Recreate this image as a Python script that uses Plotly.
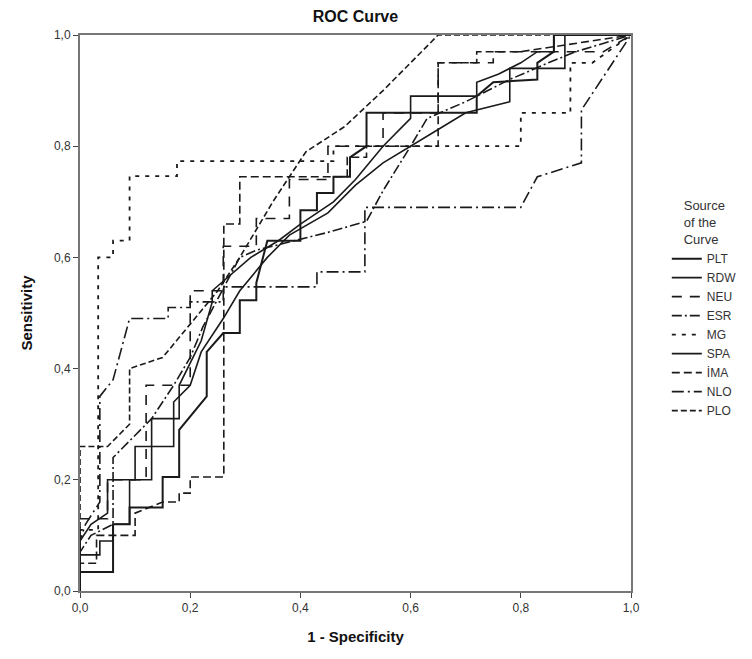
import plotly.graph_objects as go

# ---- data ----
curve_names = ["PLT", "RDW", "NEU", "ESR", "MG", "SPA", "İMA", "NLO", "PLO"]

plt_x = [0, 0, 0.06, 0.06, 0.09, 0.09, 0.15, 0.15, 0.18, 0.18, 0.23, 0.23, 0.26, 0.29, 0.29, 0.32, 0.32, 0.34, 0.40, 0.40, 0.43, 0.43, 0.46, 0.46, 0.49, 0.49, 0.52, 0.52, 0.63, 0.72, 0.72, 0.75, 0.83, 0.83, 0.86, 0.86, 1]
plt_y = [0, 0.034, 0.034, 0.12, 0.12, 0.15, 0.15, 0.205, 0.205, 0.29, 0.35, 0.43, 0.464, 0.464, 0.523, 0.523, 0.554, 0.63, 0.63, 0.685, 0.685, 0.716, 0.716, 0.745, 0.745, 0.78, 0.80, 0.86, 0.86, 0.86, 0.89, 0.915, 0.92, 0.95, 0.97, 1, 1]

rdw_x = [0, 0, 0.036, 0.036, 0.06, 0.06, 0.09, 0.09, 0.13, 0.13, 0.18, 0.18, 0.22, 0.24, 0.24, 0.31, 0.36, 0.40, 0.46, 0.50, 0.55, 0.60, 0.60, 0.72, 0.72, 0.76, 0.80, 0.83, 0.86, 0.86, 1]
rdw_y = [0, 0.065, 0.065, 0.09, 0.09, 0.12, 0.12, 0.20, 0.20, 0.31, 0.31, 0.37, 0.45, 0.52, 0.54, 0.60, 0.63, 0.66, 0.70, 0.74, 0.80, 0.85, 0.89, 0.89, 0.915, 0.93, 0.95, 0.97, 0.97, 1, 1]

neu_x = [0, 0, 0.05, 0.05, 0.12, 0.12, 0.20, 0.20, 0.26, 0.26, 0.32, 0.32, 0.38, 0.38, 0.45, 0.45, 0.55, 0.55, 0.65, 0.65, 0.75, 0.75, 0.95, 1]
neu_y = [0, 0.13, 0.13, 0.20, 0.20, 0.37, 0.37, 0.54, 0.54, 0.62, 0.62, 0.67, 0.67, 0.74, 0.74, 0.80, 0.80, 0.86, 0.86, 0.95, 0.95, 0.97, 0.97, 1]

esr_x = [0, 0, 0.02, 0.06, 0.06, 0.10, 0.13, 0.17, 0.20, 0.223, 0.29, 0.32, 0.45, 0.52, 0.55, 0.60, 0.63, 0.70, 0.78, 0.85, 0.90, 1]
esr_y = [0, 0.07, 0.10, 0.12, 0.24, 0.28, 0.31, 0.37, 0.42, 0.475, 0.60, 0.613, 0.645, 0.665, 0.72, 0.80, 0.85, 0.88, 0.92, 0.95, 0.97, 1]

mg_x = [0, 0, 0.033, 0.033, 0.06, 0.06, 0.09, 0.09, 0.176, 0.176, 0.46, 0.46, 0.80, 0.80, 0.89, 0.89, 0.93, 1]
mg_y = [0, 0.11, 0.11, 0.60, 0.60, 0.63, 0.63, 0.746, 0.746, 0.773, 0.773, 0.80, 0.80, 0.86, 0.86, 0.95, 0.95, 1]

spa_x = [0, 0, 0.02, 0.05, 0.05, 0.10, 0.10, 0.17, 0.17, 0.20, 0.22, 0.26, 0.29, 0.34, 0.38, 0.45, 0.50, 0.55, 0.65, 0.70, 0.78, 0.78, 0.88, 0.88, 1]
spa_y = [0, 0.09, 0.12, 0.14, 0.20, 0.20, 0.26, 0.26, 0.34, 0.37, 0.43, 0.49, 0.54, 0.60, 0.64, 0.68, 0.73, 0.77, 0.83, 0.86, 0.88, 0.94, 0.94, 1, 1]

ima_x = [0, 0, 0.03, 0.03, 0.10, 0.10, 0.15, 0.18, 0.18, 0.20, 0.20, 0.261, 0.261, 0.29, 0.29, 0.485, 0.485, 0.52, 0.52, 0.65, 0.65, 0.72, 0.72, 0.80, 1]
ima_y = [0, 0.05, 0.05, 0.10, 0.10, 0.14, 0.16, 0.16, 0.176, 0.176, 0.205, 0.205, 0.66, 0.66, 0.745, 0.745, 0.78, 0.78, 0.80, 0.80, 0.95, 0.95, 0.97, 0.97, 1]

nlo_x = [0, 0, 0.01, 0.036, 0.036, 0.06, 0.09, 0.16, 0.16, 0.20, 0.20, 0.26, 0.26, 0.43, 0.43, 0.517, 0.517, 0.80, 0.83, 0.91, 0.91, 1]
nlo_y = [0, 0.09, 0.12, 0.16, 0.35, 0.38, 0.49, 0.49, 0.51, 0.51, 0.52, 0.52, 0.547, 0.547, 0.574, 0.574, 0.69, 0.69, 0.745, 0.77, 0.865, 1]

plo_x = [0, 0, 0.05, 0.09, 0.09, 0.15, 0.20, 0.25, 0.29, 0.35, 0.41, 0.48, 0.55, 0.60, 0.65, 1]
plo_y = [0, 0.26, 0.26, 0.30, 0.40, 0.42, 0.48, 0.54, 0.60, 0.70, 0.79, 0.835, 0.90, 0.95, 1, 1]

tick_vals = [0, 0.2, 0.4, 0.6, 0.8, 1.0]

series = [
    (curve_names[0], plt_x, plt_y, "solid", 2.0),
    (curve_names[1], rdw_x, rdw_y, "solid", 1.6),
    (curve_names[2], neu_x, neu_y, "10px,8px", 1.6),
    (curve_names[3], esr_x, esr_y, "10px,3px,2px,3px", 1.6),
    (curve_names[4], mg_x, mg_y, "4px,6px", 1.8),
    (curve_names[5], spa_x, spa_y, "solid", 1.6),
    (curve_names[6], ima_x, ima_y, "8px,4px", 1.6),
    (curve_names[7], nlo_x, nlo_y, "12px,4px,2px,4px", 1.6),
    (curve_names[8], plo_x, plo_y, "6px,3px", 1.6),
]

fig = go.Figure()
for name, xs, ys, dash, w in series:
    fig.add_trace(go.Scatter(x=xs, y=ys, mode="lines", name=name,
                             line=dict(color="#1a1a1a", width=w, dash=dash)))

# the page body adds an 8px offset, so margins are shifted by 8px
fig.update_layout(
    width=752, height=659,
    margin=dict(l=72, r=129, t=27, b=76, autoexpand=False),
    paper_bgcolor="white", plot_bgcolor="white",
    separators=",.",
    font=dict(family="Liberation Sans, Arial, sans-serif", color="#222"),
    title=dict(text="<b>ROC Curve</b>", x=0.5, xref="paper", xanchor="center",
               y=0.988, yref="container", yanchor="middle", automargin=False,
               font=dict(size=16, color="#111")),
    showlegend=True,
    legend=dict(
        title=dict(text="Source<br>of the<br>Curve", side="top center",
                   font=dict(size=13, color="#333")),
        x=1.065, xanchor="left", y=0.715, yanchor="top",
        font=dict(size=12, color="#333"),
        bgcolor="rgba(0,0,0,0)", tracegroupgap=0, itemwidth=30,
    ),
)
axis_common = dict(range=[0, 1], tickvals=tick_vals, tickformat=".1f", automargin=False,
                   showgrid=False, zeroline=False, showline=True, mirror=True,
                   linecolor="#777", linewidth=2, ticks="outside", ticklen=5,
                   tickcolor="#444", tickfont=dict(size=12, color="#333"))
fig.update_xaxes(**axis_common,
                 title=dict(text="<b>1 - Specificity</b>", font=dict(size=15, color="#111"), standoff=17))
fig.update_yaxes(**axis_common,
                 title=dict(text="<b>Sensitivity</b>", font=dict(size=15, color="#111"), standoff=18))

fig.write_html("out.html")
